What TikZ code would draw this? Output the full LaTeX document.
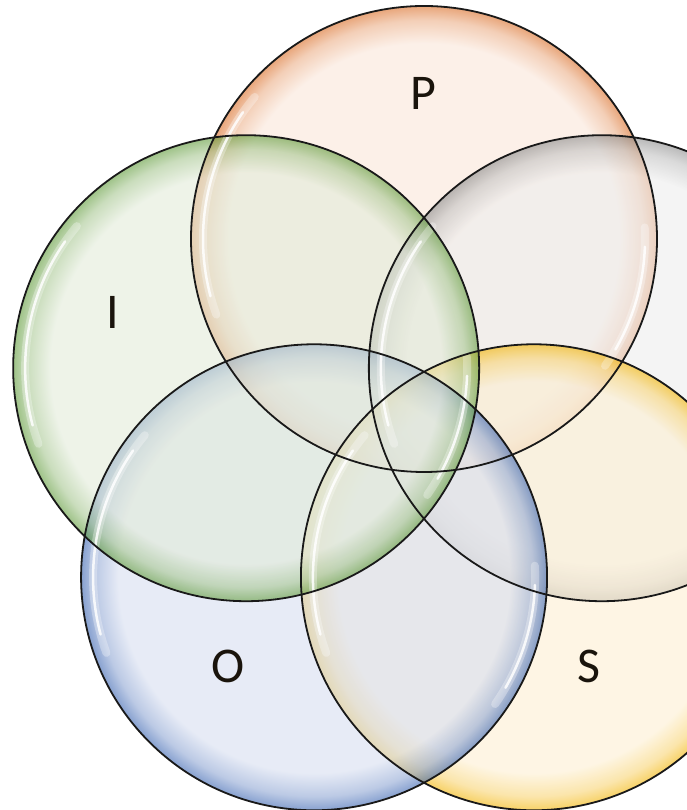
\documentclass[tikz,border=0pt]{standalone}
\usepackage{fontspec}
\setmainfont{Carlito}
\usetikzlibrary{calc}
\definecolor{orangerim}{HTML}{D96A22}
\definecolor{orangetint}{HTML}{FAE6D9}
\definecolor{greenrim}{HTML}{5E9A38}
\definecolor{greentint}{HTML}{E2EBD9}
\definecolor{bluerim}{HTML}{3762B0}
\definecolor{bluetint}{HTML}{D7DEF0}
\definecolor{yellowrim}{HTML}{F2B300}
\definecolor{yellowtint}{HTML}{FDEFD2}
\definecolor{greyrim}{HTML}{8C8C8C}
\definecolor{greytint}{HTML}{EDEDED}
\definecolor{ink}{HTML}{1A140C}
\pgfdeclareradialshading[glassrim,glasstint]{glass}{\pgfpoint{0bp}{0bp}}{color(0bp)=(glasstint); color(21bp)=(glasstint); color(23.5bp)=(glassrim!45!glasstint); color(25bp)=(glassrim); color(50bp)=(glassrim)}

\begin{document}
\begin{tikzpicture}[x=1pt,y=1pt,
 bubble/.style 2 args={/utils/exec={\colorlet{glassrim}{#1}\colorlet{glasstint}{#2}},shading=glass,fill opacity=0.6},
 glow/.style={white,line width=8pt,draw opacity=0.3,line cap=round},
 shine/.style={white,line width=2.5pt,draw opacity=0.85,line cap=round},
 ring/.style={draw=black!90,line width=1.8pt},
 tag/.style={font=\fontsize{50}{50}\selectfont,text=ink,inner sep=0pt}
]
\useasboundingbox (0,0) rectangle (687,810);
\clip (0,0) rectangle (687,810);
% centres on a pentagon
\coordinate (hub) at (424,384);
\coordinate (pc) at ($(hub)+(90:187)$);
\coordinate (gc) at ($(hub)+(18:187)$);
\coordinate (sc) at ($(hub)+(-54:187)$);
\coordinate (oc) at ($(hub)+(-126:187)$);
\coordinate (ic) at ($(hub)+(162:187)$);
% glass fills
\shade[bubble={orangerim}{orangetint}] (pc) circle (233);
\shade[bubble={greyrim}{greytint}] (gc) circle (233);
\shade[bubble={yellowrim}{yellowtint}] (sc) circle (233);
\shade[bubble={bluerim}{bluetint}] (oc) circle (233);
\shade[bubble={greenrim}{greentint}] (ic) circle (233);
% highlights
\foreach \c in {pc,gc,sc,oc,ic}{
 \draw[glow] ($(\c)+(140:221)$) arc[start angle=140,end angle=200,radius=221];
 \draw[shine] ($(\c)+(145:221)$) arc[start angle=145,end angle=195,radius=221];
 \draw[glow] ($(\c)+(-35:221)$) arc[start angle=-35,end angle=3,radius=221];
 \draw[shine] ($(\c)+(-30:221)$) arc[start angle=-30,end angle=-2,radius=221];
}
% outlines
\draw[ring] (pc) circle (233);
\draw[ring] (gc) circle (233);
\draw[ring] (sc) circle (233);
\draw[ring] (oc) circle (233);
\draw[ring] (ic) circle (233);
% labels
\node[tag] (plabel) at (423,717) {P};
\node[tag] (ilabel) at (113,498) {I};
\node[tag] (olabel) at (228,144) {O};
\node[tag] (slabel) at (589,144) {S};
\end{tikzpicture}
\end{document}
